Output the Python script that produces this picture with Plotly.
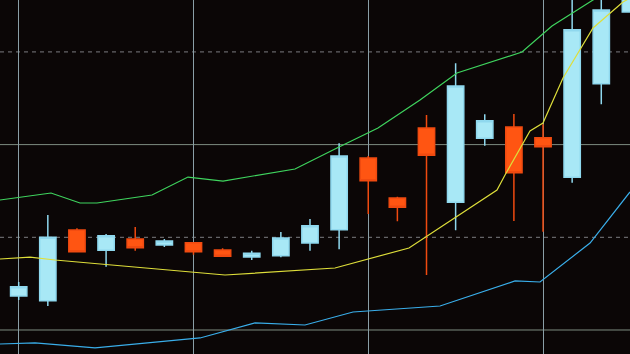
import plotly.graph_objects as go

# Candle periods
period = list(range(22))
open_ = [103.67, 103.16, 110.79, 108.60, 109.82, 109.17, 109.42, 108.63, 107.87, 108.01, 109.38,
         110.82, 118.55, 114.24, 121.79, 113.78, 120.68, 121.90, 120.74, 116.47, 126.57, 134.30]
high = [105.18, 112.41, 110.97, 110.36, 111.11, 109.82, 109.44, 108.81, 108.55, 110.57, 111.97,
        120.14, 118.77, 114.38, 123.19, 128.77, 123.27, 123.30, 122.19, 136.70, 137.75, 141.00]
low = [103.24, 102.59, 108.42, 106.83, 108.55, 108.95, 108.12, 107.93, 107.55, 107.84, 108.55,
       108.71, 112.51, 111.73, 105.93, 110.75, 119.88, 111.76, 110.60, 115.89, 124.35, 134.30]
close = [104.67, 110.00, 108.45, 110.17, 108.88, 109.60, 108.45, 107.95, 108.27, 109.92, 111.25,
         118.77, 116.10, 113.24, 118.84, 126.32, 122.58, 116.97, 119.77, 132.39, 134.52, 140.00]

# Bollinger band vertices (period position, price)
upper_x = [-0.642, 1.109, 2.104, 2.688, 4.576, 5.812, 7.014, 9.485, 10.927, 12.334, 13.776,
           15.046, 17.278, 18.308, 19.715, 20.986]
upper_y = [114.02, 114.78, 113.70, 113.70, 114.56, 116.50, 116.07, 117.37, 119.63, 121.79, 124.81,
           127.72, 129.99, 132.79, 135.60, 138.08]
mid_x = [-0.642, 0.388, 1.246, 5.984, 7.083, 10.859, 13.399, 16.420, 16.695, 17.553, 17.999,
         18.686, 19.716, 20.745, 20.986]
mid_y = [107.66, 107.87, 107.55, 106.26, 105.93, 106.69, 108.85, 115.10, 116.72, 121.47, 122.33,
         127.18, 132.58, 135.38, 135.81]
lower_x = [-0.642, 0.560, 2.620, 6.225, 8.113, 9.829, 11.477, 14.464, 17.039, 17.897, 19.614, 20.986]
lower_y = [98.49, 98.60, 98.06, 99.14, 100.76, 100.54, 101.94, 102.59, 105.29, 105.18, 109.38, 114.89]

solid_levels = [100, 120]
dashed_levels = [110, 130]

fig = go.Figure()
fig.add_trace(go.Scatter(x=upper_x, y=upper_y, mode="lines",
                         line=dict(color="#3fd45e", width=1.2), hoverinfo="skip"))
fig.add_trace(go.Scatter(x=mid_x, y=mid_y, mode="lines",
                         line=dict(color="#dede3a", width=1.2), hoverinfo="skip"))
fig.add_trace(go.Scatter(x=lower_x, y=lower_y, mode="lines",
                         line=dict(color="#3aaeea", width=1.2), hoverinfo="skip"))
fig.add_trace(go.Candlestick(
    x=period, open=open_, high=high, low=low, close=close,
    increasing=dict(fillcolor="#a8e8f6", line=dict(color="#8fd8ee", width=1.5)),
    decreasing=dict(fillcolor="#ff5512", line=dict(color="#f04a10", width=1.5)),
    whiskerwidth=0,
))

for lv in dashed_levels:
    fig.add_shape(type="line", xref="paper", x0=0, x1=1, yref="y", y0=lv, y1=lv,
                  line=dict(color="#7c7c80", width=1, dash="4px,4px"), layer="below")
for lv in solid_levels:
    fig.add_shape(type="line", xref="paper", x0=0, x1=1, yref="y", y0=lv, y1=lv,
                  line=dict(color="#7d8c80", width=1), layer="below")

fig.update_layout(
    width=630, height=354,
    margin=dict(l=0, r=0, t=0, b=0),
    paper_bgcolor="#0b0606", plot_bgcolor="#0b0606",
    showlegend=False,
    boxgap=0.3, boxgroupgap=0.2,
    xaxis=dict(range=[-0.642, 20.986], rangeslider=dict(visible=False),
               showgrid=True, tick0=0, dtick=6, gridcolor="#8a9ea6", gridwidth=1,
               showticklabels=False, zeroline=False, showline=False, ticks=""),
    yaxis=dict(range=[97.41, 135.6], showgrid=False, showticklabels=False,
               zeroline=False, showline=False, ticks=""),
)

fig.write_html("out.html")
